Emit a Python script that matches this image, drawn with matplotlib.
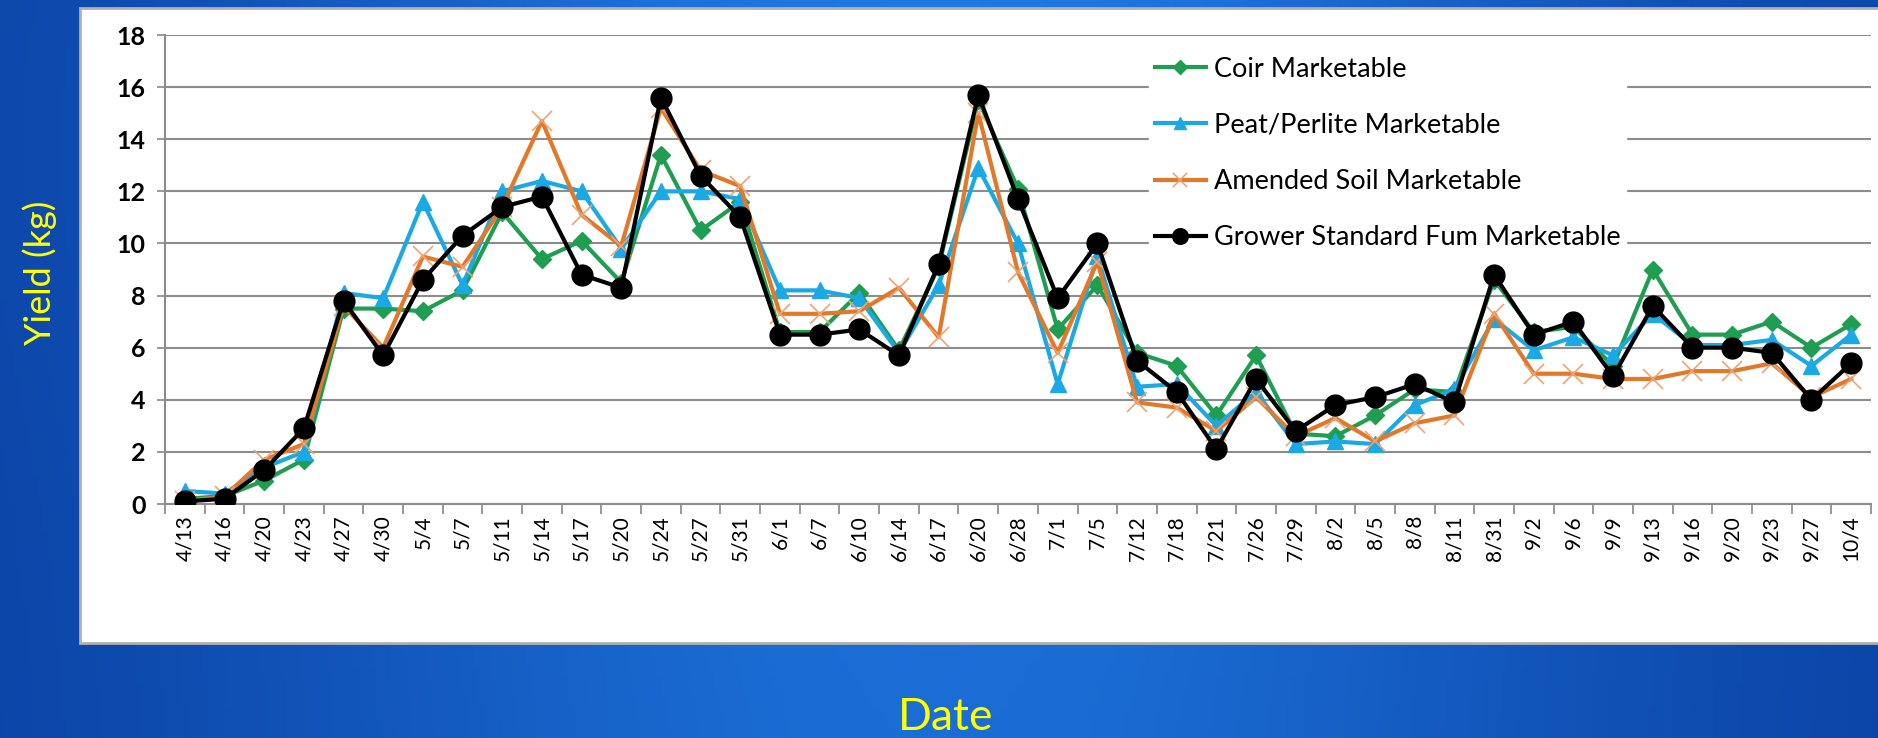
import matplotlib.pyplot as plt
import matplotlib.patches as mpatches
import numpy as np

dates = ["4/13", "4/16", "4/20", "4/23", "4/27", "4/30", "5/4", "5/7", "5/11", "5/14",
         "5/17", "5/20", "5/24", "5/27", "5/31", "6/1", "6/7", "6/10", "6/14", "6/17",
         "6/20", "6/28", "7/1", "7/5", "7/12", "7/18", "7/21", "7/26", "7/29", "8/2",
         "8/5", "8/8", "8/11", "8/31", "9/2", "9/6", "9/9", "9/13", "9/16", "9/20",
         "9/23", "9/27", "10/4"]

coir = [0.2, 0.3, 0.9, 1.7, 7.5, 7.5, 7.4, 8.2, 11.2, 9.4, 10.1, 8.5, 13.4, 10.5, 11.6,
        6.6, 6.6, 8.1, 5.9, 9.1, 15.5, 12.1, 6.7, 8.4, 5.8, 5.3, 3.4, 5.7, 2.7, 2.6,
        3.4, 4.4, 4.3, 8.6, 6.6, 6.8, 5.3, 9.0, 6.5, 6.5, 7.0, 6.0, 6.9]
peat = [0.5, 0.4, 1.4, 2.0, 8.1, 7.9, 11.6, 8.4, 12.0, 12.4, 12.0, 9.8, 12.0, 12.0, 11.7,
        8.2, 8.2, 7.9, 5.8, 8.4, 12.9, 10.0, 4.6, 9.5, 4.5, 4.6, 3.0, 4.3, 2.3, 2.4,
        2.3, 3.8, 4.4, 7.1, 5.9, 6.4, 5.7, 7.3, 6.1, 6.1, 6.3, 5.3, 6.5]
soil = [0.1, 0.3, 1.7, 2.3, 7.6, 6.0, 9.5, 9.1, 11.4, 14.7, 11.1, 9.9, 15.2, 12.8, 12.2,
        7.3, 7.3, 7.4, 8.3, 6.4, 15.0, 8.9, 5.8, 9.3, 3.9, 3.7, 2.8, 4.1, 2.6, 3.3,
        2.4, 3.1, 3.4, 7.3, 5.0, 5.0, 4.8, 4.8, 5.1, 5.1, 5.4, 4.1, 4.8]
grower = [0.1, 0.2, 1.3, 2.9, 7.8, 5.7, 8.6, 10.3, 11.4, 11.8, 8.8, 8.3, 15.6, 12.6, 11.0,
          6.5, 6.5, 6.7, 5.7, 9.2, 15.7, 11.7, 7.9, 10.0, 5.5, 4.3, 2.1, 4.8, 2.8, 3.8,
          4.1, 4.6, 3.9, 8.8, 6.5, 7.0, 4.9, 7.6, 6.0, 6.0, 5.8, 4.0, 5.4]

plt.rcParams['font.family'] = ['Lato', 'DejaVu Sans']

fig = plt.figure(figsize=(18.78, 7.38), dpi=100)

# blue slide background (lighter in the middle)
bg = fig.add_axes([0, 0, 1, 1], zorder=-10)
gx = np.linspace(-1, 1, 400)
gy = np.linspace(-1, 1, 200)
X, Y = np.meshgrid(gx, gy)
f = np.exp(-(X / 0.75) ** 2) * (0.75 + 0.25 * np.exp(-((Y + 0.6) / 0.9) ** 2))
dark = np.array([10, 62, 160]) / 255
light = np.array([32, 124, 230]) / 255
img = dark + (light - dark) * f[..., None]
bg.imshow(img, aspect='auto', extent=[0, 1, 0, 1])
bg.axis('off')

# white chart panel
bg.add_patch(mpatches.Rectangle((80 / 1878, 1 - 643 / 738), 1, (643 - 8) / 738,
                                facecolor='white', edgecolor='#b0b0b0', lw=2,
                                transform=bg.transAxes, zorder=2))

ax = fig.add_axes([165 / 1878, 1 - 504 / 738, (1871 - 165) / 1878, (504 - 35) / 738])
ax.set_facecolor('none')

x = np.arange(len(dates))
ax.plot(x, coir, color='#1f9e52', lw=3, marker='D', ms=9, label='Coir Marketable', zorder=3)
ax.plot(x, peat, color='#1ba9e6', lw=3, marker='^', ms=12, label='Peat/Perlite Marketable', zorder=4)
ax.plot(x, soil, color='#e2782a', lw=3, marker='x', ms=14, mew=1.2, mec='#eba574',
        label='Amended Soil Marketable', zorder=5)
ax.plot(x, grower, color='black', lw=3, marker='o', ms=15, label='Grower Standard Fum Marketable', zorder=6)

ax.set_xlim(-0.5, len(dates) - 0.5)
ax.set_ylim(0, 18)
ax.set_yticks(range(0, 19, 2))
ax.set_xticks(x)
ax.set_xticklabels(dates, rotation=90, fontsize=15)
ax.set_xticks(np.arange(-0.5, len(dates)), minor=True)
ax.tick_params(axis='x', which='major', length=0, pad=8)
ax.tick_params(axis='x', which='minor', length=7, color='#888888', width=1.2)
ax.tick_params(axis='y', length=6, color='#888888', width=1.2, labelsize=18, pad=8)
for lab in ax.get_yticklabels():
    lab.set_fontweight('bold')

ax.grid(axis='y', color='#8c8c8c', lw=1.5)
ax.set_axisbelow(True)
for side in ['top', 'right']:
    ax.spines[side].set_visible(False)
ax.spines['left'].set_color('#8c8c8c')
ax.spines['bottom'].set_color('#8c8c8c')
ax.spines['left'].set_linewidth(1.5)
ax.spines['bottom'].set_linewidth(1.5)

leg = ax.legend(loc='upper left', bbox_to_anchor=(0.569, 0.994), fontsize=19.5,
                frameon=True, facecolor='white', edgecolor='white', framealpha=1,
                handlelength=1.9, labelspacing=1.15, markerscale=0.75,
                borderpad=0.2, handletextpad=0.3)
leg.get_frame().set_boxstyle('square', pad=0)
leg.set_zorder(2)

fig.text(40 / 1878, 1 - 273 / 738, 'Yield (kg)', rotation=90, color='#ffff00',
         fontsize=26, ha='center', va='center')
fig.text(946 / 1878, 1 - 718 / 738, 'Date', color='#ffff00', fontsize=32,
         ha='center', va='center')

fig.savefig('out.png', dpi=100)
